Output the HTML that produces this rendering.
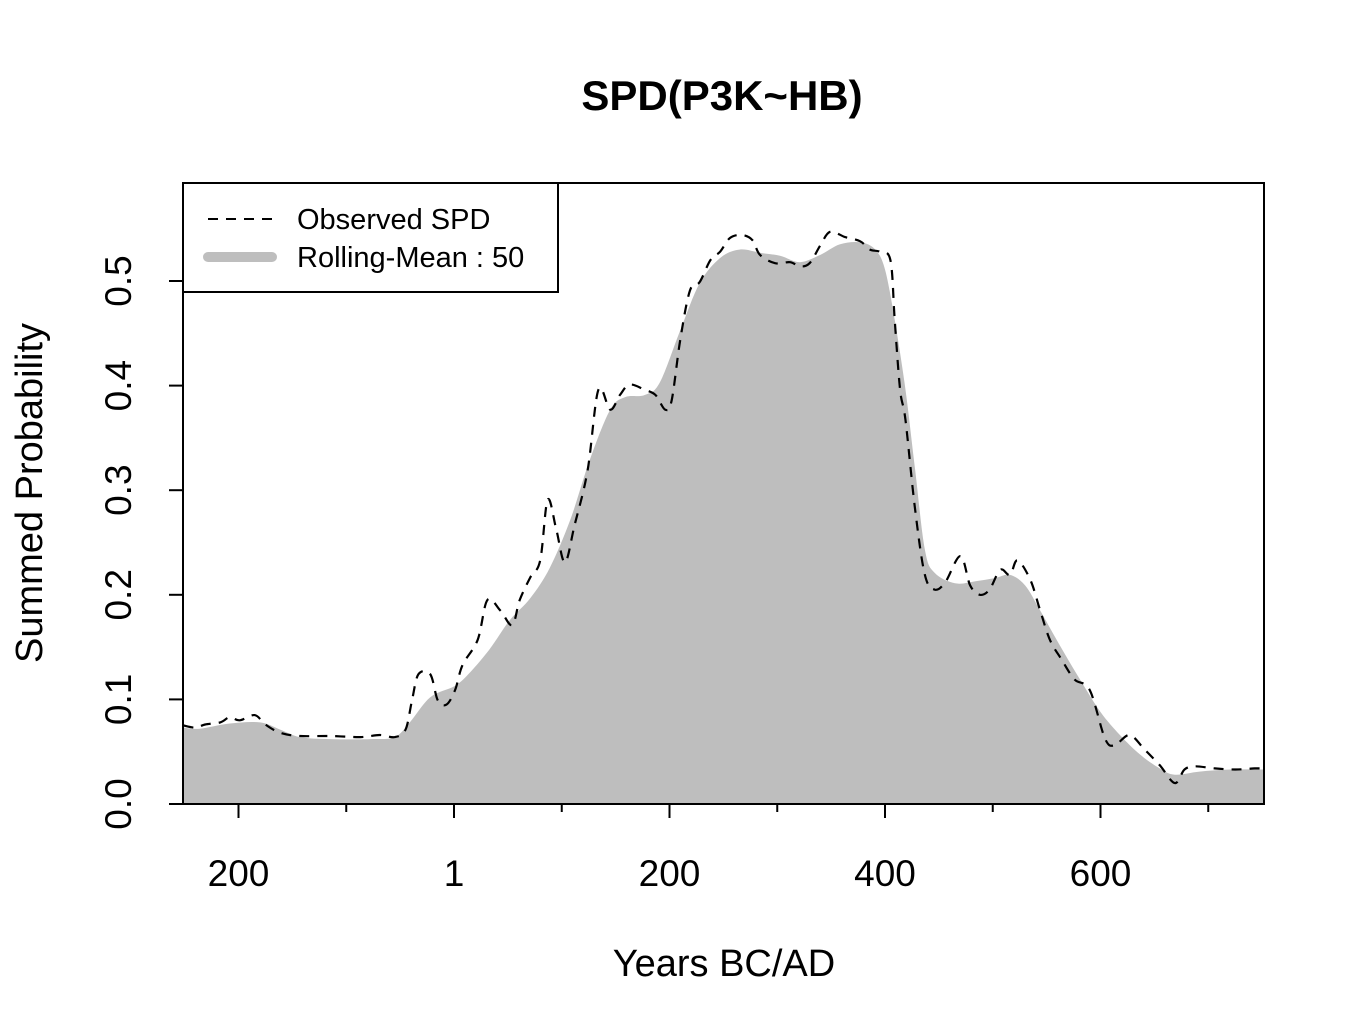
<!DOCTYPE html>
<html><head><meta charset="utf-8"><style>
html,body{margin:0;padding:0;background:#fff;}
svg{display:block;font-family:"Liberation Sans",Arial,sans-serif;}
</style></head><body>
<svg id="chart" width="1358" height="1034" viewBox="0 0 1358 1034">
<defs><clipPath id="plotclip"><rect x="183" y="183" width="1081" height="621"/></clipPath></defs>
<text x="722" y="110" text-anchor="middle" font-size="42" font-weight="bold">SPD(P3K~HB)</text>
<g id="marks" clip-path="url(#plotclip)"></g>
<rect x="183" y="183" width="1081" height="621" fill="none" stroke="#000" stroke-width="2"/>
<g id="xaxis"></g>
<g id="yaxis"></g>
<text x="724" y="976" text-anchor="middle" font-size="38">Years BC/AD</text>
<text transform="translate(42,493) rotate(-90)" text-anchor="middle" font-size="38">Summed Probability</text>
<g>
<rect x="183" y="183" width="375" height="109" fill="#fff" stroke="#000" stroke-width="2"/>
<line x1="208" y1="219" x2="272" y2="219" stroke="#000" stroke-width="2" stroke-dasharray="10,8"/>
<text x="297" y="229" font-size="29">Observed SPD</text>
<line x1="208" y1="257" x2="272" y2="257" stroke="#bebebe" stroke-width="10" stroke-linecap="round"/>
<text x="297" y="267" font-size="29">Rolling-Mean : 50</text>
</g>
</svg>
<script>
const meanYears=[-251,-236,-208,-180,-161,-143,-115,-78,-55,-41,-22,1,15,33,52,71,89,108,126,145,159,177,191,210,228,247,265,284,303,321,340,358,377,391,400,409,419,428,437,446,465,484,502,516,530,544,562,581,600,618,637,655,669,692,720,752];
const meanValues=[0.073,0.072,0.077,0.078,0.071,0.064,0.062,0.062,0.064,0.078,0.102,0.113,0.126,0.148,0.176,0.197,0.226,0.272,0.329,0.377,0.389,0.391,0.403,0.453,0.498,0.522,0.530,0.527,0.524,0.518,0.525,0.535,0.537,0.530,0.511,0.463,0.396,0.319,0.243,0.221,0.211,0.213,0.216,0.219,0.209,0.185,0.152,0.119,0.088,0.066,0.047,0.034,0.028,0.031,0.033,0.033];
const obsYears=[-251,-240,-231,-217,-208,-199,-185,-175,-161,-143,-115,-87,-69,-55,-45,-39,-33,-22,-15,-7,1,8,22,31,43,54,61,71,80,87,95,103,112,124,134,145,154,163,177,187,196,202,210,219,228,238,247,256,267,277,284,298,312,321,330,340,349,363,377,386,395,405,409,414,419,428,437,446,456,470,479,488,497,507,516,523,535,544,553,564,576,590,604,613,627,641,655,669,678,688,706,725,743,752];
const obsValues=[0.075,0.073,0.076,0.078,0.083,0.080,0.085,0.076,0.068,0.065,0.065,0.064,0.066,0.064,0.071,0.099,0.124,0.124,0.099,0.095,0.109,0.133,0.157,0.195,0.185,0.171,0.195,0.217,0.233,0.291,0.262,0.231,0.267,0.319,0.396,0.377,0.391,0.401,0.396,0.391,0.377,0.386,0.444,0.491,0.499,0.520,0.528,0.541,0.544,0.539,0.525,0.517,0.518,0.514,0.517,0.534,0.547,0.542,0.538,0.530,0.528,0.520,0.463,0.396,0.367,0.281,0.219,0.205,0.212,0.237,0.209,0.200,0.205,0.224,0.219,0.233,0.214,0.185,0.157,0.138,0.119,0.109,0.063,0.056,0.066,0.052,0.037,0.020,0.033,0.036,0.034,0.033,0.034,0.034];
const xTickYears=[-200,0,200,400,600];
const xTickLabels=["200","1","200","400","600"];
const xMinorYears=[-100,100,300,500,700];
const yTicks=[0,0.1,0.2,0.3,0.4,0.5];
const yTickLabels=["0.0","0.1","0.2","0.3","0.4","0.5"];

const X=y=>454+y*1.0775;
const Y=v=>804-v*1046;
const NS="http://www.w3.org/2000/svg";
function mk(tag,attrs,parent){const e=document.createElementNS(NS,tag);for(const k in attrs)e.setAttribute(k,attrs[k]);parent.appendChild(e);return e;}
function smooth(pts){let d="M"+pts[0][0].toFixed(1)+","+pts[0][1].toFixed(1);
 for(let i=0;i<pts.length-1;i++){const p0=pts[Math.max(0,i-1)],p1=pts[i],p2=pts[i+1],p3=pts[Math.min(pts.length-1,i+2)];
  const c1=[p1[0]+(p2[0]-p0[0])/6,p1[1]+(p2[1]-p0[1])/6],c2=[p2[0]-(p3[0]-p1[0])/6,p2[1]-(p3[1]-p1[1])/6];
  d+="C"+c1[0].toFixed(1)+","+c1[1].toFixed(1)+" "+c2[0].toFixed(1)+","+c2[1].toFixed(1)+" "+p2[0].toFixed(1)+","+p2[1].toFixed(1);}
 return d;}
const marks=document.getElementById('marks');
const mp=meanYears.map((y,i)=>[X(y),Y(meanValues[i])]);
const area=mk('path',{d:smooth(mp)+"L"+mp[mp.length-1][0]+","+Y(0)+"L"+mp[0][0]+","+Y(0)+"Z",fill:"#bebebe",stroke:"none"},marks);


const op=obsYears.map((y,i)=>[X(y),Y(obsValues[i])]);
const line=mk('path',{d:smooth(op),fill:"none",stroke:"#000","stroke-width":2.2,"stroke-dasharray":"10,8"},marks);



const xa=document.getElementById('xaxis');
xTickYears.forEach((t,i)=>{
 const l=mk('line',{x1:X(t),x2:X(t),y1:804,y2:818,stroke:"#000","stroke-width":2},xa);
 
 
 const tx=mk('text',{x:X(t),y:886,"text-anchor":"middle","font-size":37},xa);
 tx.textContent=xTickLabels[i];
 
 
});
xMinorYears.forEach(t=>{
 const l=mk('line',{x1:X(t),x2:X(t),y1:804,y2:812,stroke:"#000","stroke-width":2},xa);
 
 
});
const ya=document.getElementById('yaxis');
yTicks.forEach((v,i)=>{
 const l=mk('line',{x1:169,x2:183,y1:Y(v),y2:Y(v),stroke:"#000","stroke-width":2},ya);
 
 
 const tx=mk('text',{transform:"translate(131,"+Y(v)+") rotate(-90)","text-anchor":"middle","font-size":37},ya);
 tx.textContent=yTickLabels[i];
 
 
});
</script>
</body></html>
